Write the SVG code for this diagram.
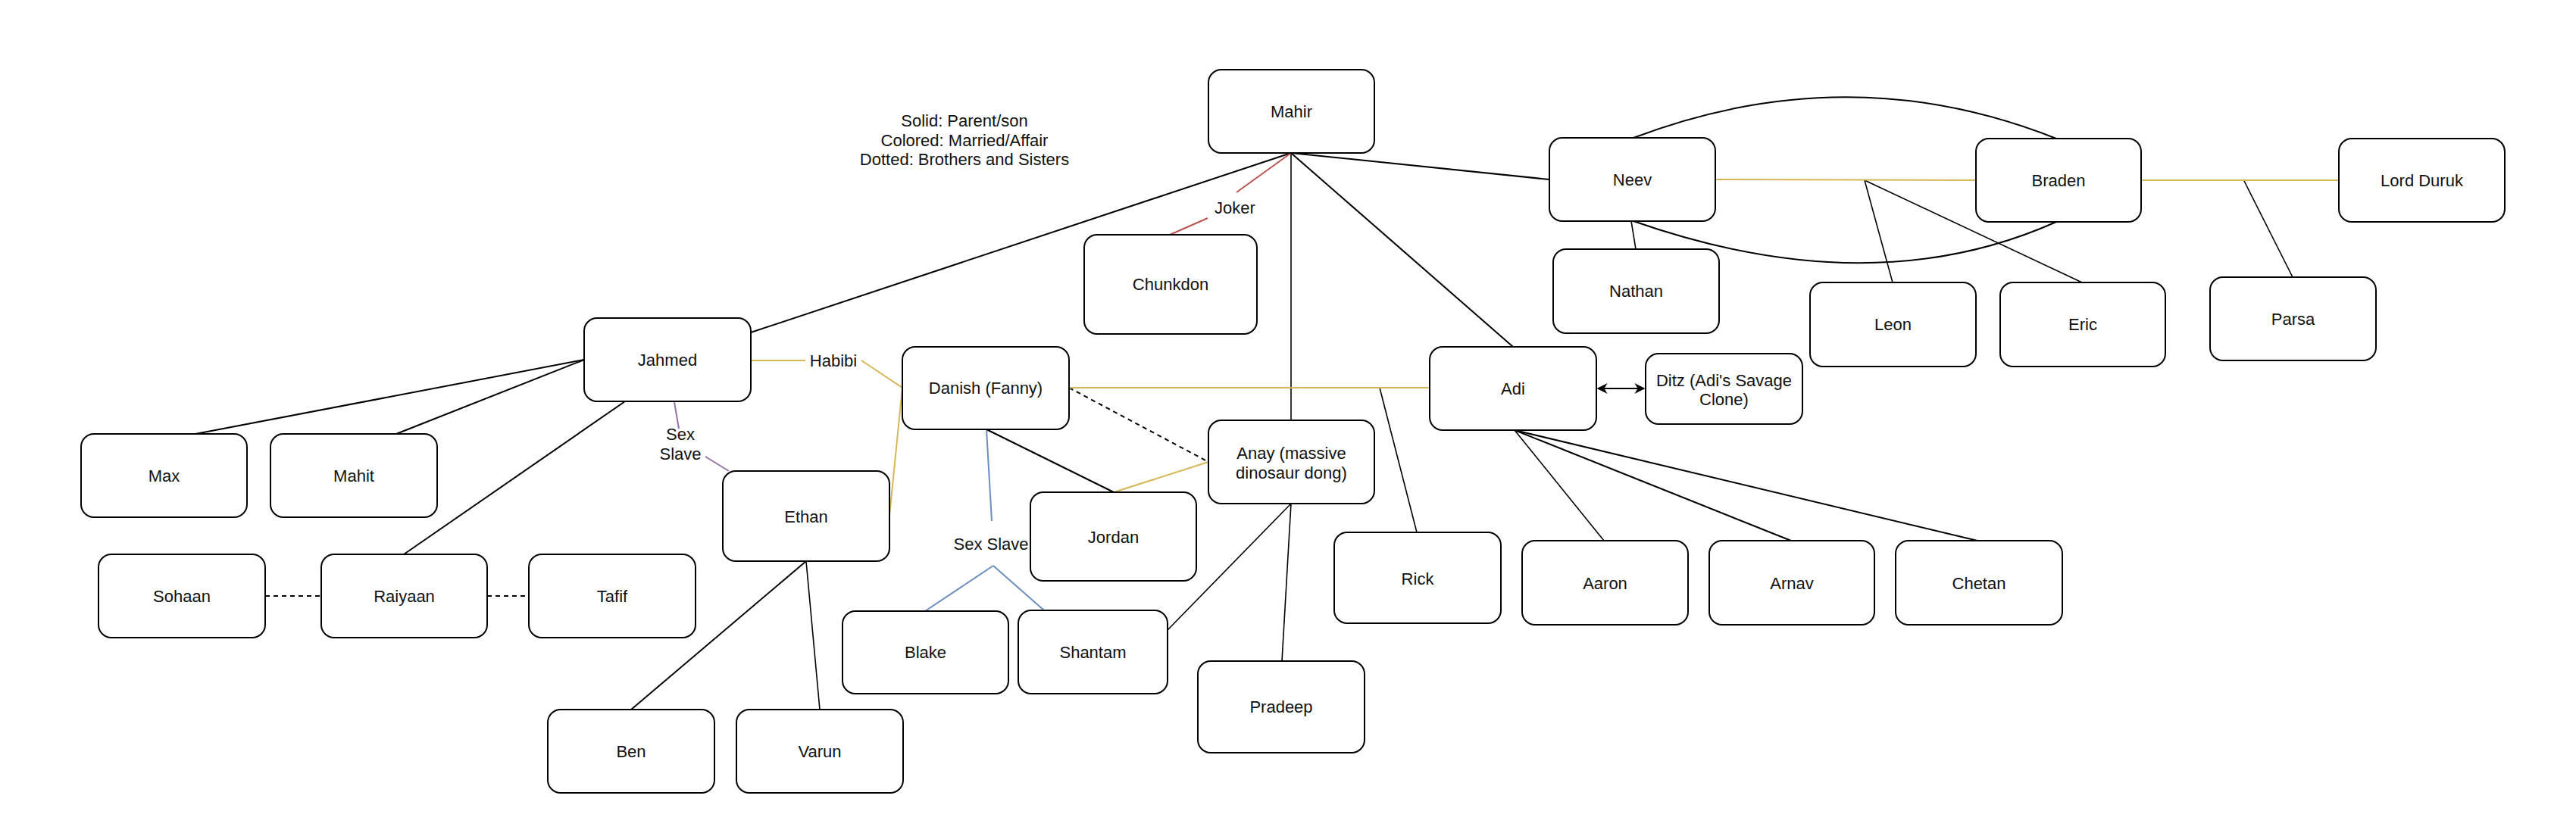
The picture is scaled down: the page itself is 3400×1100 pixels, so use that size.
<svg xmlns="http://www.w3.org/2000/svg" width="3400" height="1100" viewBox="0 0 3400 1100">
<style>
.n rect{fill:#fff;stroke:#000;stroke-width:2}
text{font-family:"Liberation Sans",Arial,sans-serif;font-size:22px;fill:#111;text-anchor:middle}
.k{stroke:#000;stroke-width:2;fill:none}
.t{stroke:#000;stroke-width:1.6;fill:none}
.d{stroke:#000;stroke-width:2;fill:none;stroke-dasharray:6 5}
.y{stroke:#d6b656;stroke-width:2;fill:none}
.p{stroke:#9673a6;stroke-width:2;fill:none}
.b{stroke:#6c8ebf;stroke-width:2;fill:none}
.r{stroke:#b85450;stroke-width:2;fill:none}
</style>
<defs>
<marker id="arr" viewBox="0 0 10 10" refX="9" refY="5" markerWidth="7" markerHeight="7" orient="auto-start-reverse" markerUnits="strokeWidth">
<path d="M0,0 L10,5 L0,10 L3,5 Z" fill="#000"/>
</marker>
</defs>
<rect width="3400" height="1100" fill="#fff"/>

<g id="legend">
<text x="1273" y="167">Solid: Parent/son</text>
<text x="1273" y="193">Colored: Married/Affair</text>
<text x="1273" y="218">Dotted: Brothers and Sisters</text>
</g>

<g id="connectors">
<line class="k" x1="1704" y1="202" x2="991" y2="439"/>
<line class="k" x1="1704" y1="202" x2="2045" y2="237"/>
<line class="k" x1="1704" y1="202" x2="1997" y2="458"/>
<line class="t" x1="1704" y1="202" x2="1704" y2="555"/>
<line class="k" x1="771" y1="475" x2="258" y2="573"/>
<line class="k" x1="771" y1="475" x2="523" y2="573"/>
<line class="k" x1="825" y1="530" x2="533" y2="732"/>
<line class="k" x1="1064" y1="741" x2="833" y2="937"/>
<line class="t" x1="1064" y1="741" x2="1082" y2="937"/>
<line class="k" x1="1302" y1="567" x2="1470" y2="650"/>
<line class="t" x1="1704" y1="665" x2="1541" y2="832"/>
<line class="t" x1="1704" y1="665" x2="1692" y2="873"/>
<line class="t" x1="1821" y1="512" x2="1870" y2="703"/>
<line class="t" x1="1999" y1="568" x2="2117" y2="714"/>
<line class="k" x1="1999" y1="568" x2="2364" y2="714"/>
<line class="k" x1="1999" y1="568" x2="2610" y2="714"/>
<line class="t" x1="2153" y1="292" x2="2159" y2="329"/>
<line class="t" x1="2461" y1="238" x2="2498" y2="373"/>
<line class="t" x1="2461" y1="238" x2="2748" y2="373"/>
<line class="t" x1="2961" y1="237" x2="3026" y2="366"/>
<path class="k" d="M2156,182 Q2440,74 2714,183"/>
<path class="k" d="M2156,292 Q2470,402 2714,293"/>
<line class="d" x1="350" y1="787" x2="424" y2="787"/>
<line class="d" x1="643" y1="787" x2="698" y2="787"/>
<line class="d" x1="1411" y1="512" x2="1595" y2="610"/>
<line class="y" x1="991" y1="476" x2="1063" y2="476"/>
<line class="y" x1="1137" y1="476" x2="1191" y2="512"/>
<line class="y" x1="1191" y1="512" x2="1174" y2="681"/>
<line class="y" x1="1411" y1="512" x2="1887" y2="512"/>
<line class="y" x1="1470" y1="650" x2="1595" y2="610"/>
<line class="y" x1="2264" y1="237" x2="2608" y2="238"/>
<line class="y" x1="2826" y1="238" x2="3087" y2="238"/>
<line class="p" x1="890" y1="531" x2="896" y2="566"/>
<line class="p" x1="931" y1="603" x2="962" y2="622"/>
<line class="b" x1="1302" y1="567" x2="1309" y2="688"/>
<line class="b" x1="1311" y1="747" x2="1221" y2="807"/>
<line class="b" x1="1311" y1="747" x2="1378" y2="806"/>
<line class="r" x1="1704" y1="202" x2="1632" y2="254"/>
<line class="r" x1="1594" y1="288" x2="1544" y2="310"/>
<line class="k" x1="2109" y1="513" x2="2170" y2="513" marker-start="url(#arr)" marker-end="url(#arr)"/>
<text x="1100" y="484">Habibi</text>
<text x="898" y="581">Sex</text>
<text x="898" y="607">Slave</text>
<text x="1308" y="726">Sex Slave</text>
<text x="1630" y="282">Joker</text>
</g>

<g id="mahir" class="n"><rect x="1595" y="92" width="219" height="110" rx="17"/><text x="1704.5" y="155">Mahir</text></g>
<g id="chunkdon" class="n"><rect x="1431" y="310" width="228" height="131" rx="17"/><text x="1545" y="383">Chunkdon</text></g>
<g id="neev" class="n"><rect x="2045" y="182" width="219" height="110" rx="17"/><text x="2154.5" y="245">Neev</text></g>
<g id="braden" class="n"><rect x="2608" y="183" width="218" height="110" rx="17"/><text x="2717" y="246">Braden</text></g>
<g id="lordduruk" class="n"><rect x="3087" y="183" width="219" height="110" rx="17"/><text x="3196.5" y="246">Lord Duruk</text></g>
<g id="nathan" class="n"><rect x="2050" y="329" width="219" height="111" rx="17"/><text x="2159.5" y="392">Nathan</text></g>
<g id="leon" class="n"><rect x="2389" y="373" width="219" height="111" rx="17"/><text x="2498.5" y="436">Leon</text></g>
<g id="eric" class="n"><rect x="2640" y="373" width="218" height="111" rx="17"/><text x="2749" y="436">Eric</text></g>
<g id="parsa" class="n"><rect x="2917" y="366" width="219" height="110" rx="17"/><text x="3026.5" y="429">Parsa</text></g>
<g id="jahmed" class="n"><rect x="771" y="420" width="220" height="110" rx="17"/><text x="881" y="483">Jahmed</text></g>
<g id="danish" class="n"><rect x="1191" y="458" width="220" height="109" rx="17"/><text x="1301" y="520">Danish (Fanny)</text></g>
<g id="adi" class="n"><rect x="1887" y="458" width="220" height="110" rx="17"/><text x="1997" y="521">Adi</text></g>
<g id="ditz" class="n"><rect x="2172" y="467" width="207" height="93" rx="17"/><text x="2275.5" y="510">Ditz (Adi's Savage</text><text x="2275.5" y="535">Clone)</text></g>
<g id="anay" class="n"><rect x="1595" y="555" width="219" height="110" rx="17"/><text x="1704.5" y="606">Anay (massive</text><text x="1704.5" y="632">dinosaur dong)</text></g>
<g id="max" class="n"><rect x="107" y="573" width="219" height="110" rx="17"/><text x="216.5" y="636">Max</text></g>
<g id="mahit" class="n"><rect x="357" y="573" width="220" height="110" rx="17"/><text x="467" y="636">Mahit</text></g>
<g id="ethan" class="n"><rect x="954" y="622" width="220" height="119" rx="17"/><text x="1064" y="690">Ethan</text></g>
<g id="jordan" class="n"><rect x="1360" y="650" width="219" height="117" rx="17"/><text x="1469.5" y="717">Jordan</text></g>
<g id="rick" class="n"><rect x="1761" y="703" width="220" height="120" rx="17"/><text x="1871" y="772">Rick</text></g>
<g id="aaron" class="n"><rect x="2009" y="714" width="219" height="111" rx="17"/><text x="2118.5" y="778">Aaron</text></g>
<g id="arnav" class="n"><rect x="2256" y="714" width="218" height="111" rx="17"/><text x="2365" y="778">Arnav</text></g>
<g id="chetan" class="n"><rect x="2502" y="714" width="220" height="111" rx="17"/><text x="2612" y="778">Chetan</text></g>
<g id="sohaan" class="n"><rect x="130" y="732" width="220" height="110" rx="17"/><text x="240" y="795">Sohaan</text></g>
<g id="raiyaan" class="n"><rect x="424" y="732" width="219" height="110" rx="17"/><text x="533.5" y="795">Raiyaan</text></g>
<g id="tafif" class="n"><rect x="698" y="732" width="220" height="110" rx="17"/><text x="808" y="795">Tafif</text></g>
<g id="blake" class="n"><rect x="1112" y="807" width="219" height="109" rx="17"/><text x="1221.5" y="869">Blake</text></g>
<g id="shantam" class="n"><rect x="1344" y="806" width="197" height="110" rx="17"/><text x="1442.5" y="869">Shantam</text></g>
<g id="pradeep" class="n"><rect x="1581" y="873" width="220" height="121" rx="17"/><text x="1691" y="941">Pradeep</text></g>
<g id="ben" class="n"><rect x="723" y="937" width="220" height="110" rx="17"/><text x="833" y="1000">Ben</text></g>
<g id="varun" class="n"><rect x="972" y="937" width="220" height="110" rx="17"/><text x="1082" y="1000">Varun</text></g>
</svg>
